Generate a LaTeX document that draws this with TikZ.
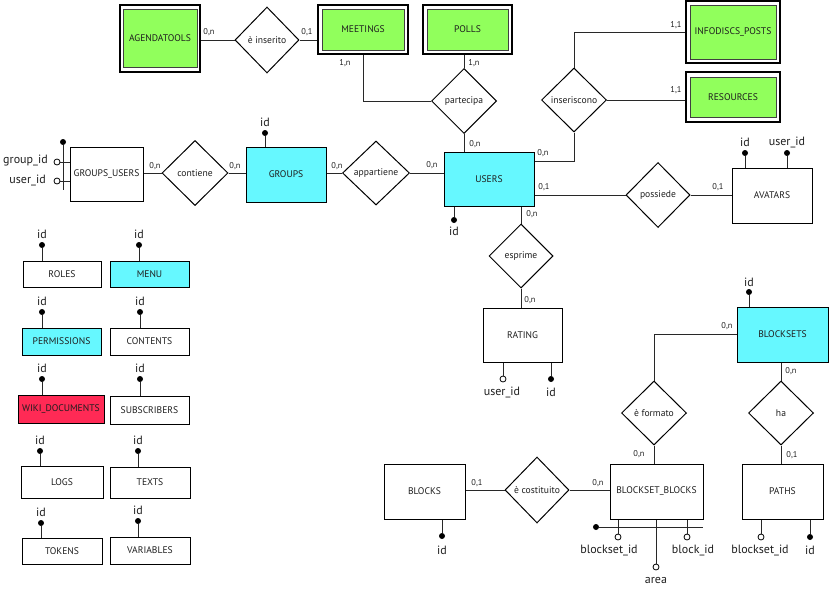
\documentclass[tikz,border=0pt]{standalone}
\usepackage{fontspec}
\setmainfont{PT Sans}
\usetikzlibrary{shapes.geometric}
\definecolor{entgreen}{RGB}{145,255,92}
\definecolor{entcyan}{RGB}{102,248,255}
\definecolor{entred}{RGB}{255,42,85}
\definecolor{linegray}{RGB}{40,40,40}
\definecolor{txt}{RGB}{30,30,30}
\tikzset{
  ent/.style 2 args={draw=black, line width=0.75pt, fill=white, rectangle, inner sep=0pt, text=txt,
    minimum width=#1*0.75pt, minimum height=#2*0.75pt, font=\fontsize{7.2}{8}\selectfont},
  outerbox/.style 2 args={draw=black, line width=1.4pt, fill=white, rectangle, inner sep=0pt,
    minimum width=#1*0.75pt, minimum height=#2*0.75pt},
  innerbox/.style 2 args={draw=black!75, line width=0.75pt, fill=entgreen, rectangle, inner sep=0pt, text=txt,
    minimum width=#1*0.75pt, minimum height=#2*0.75pt, font=\fontsize{7.2}{8}\selectfont},
  rel/.style 2 args={diamond, draw=black, line width=0.75pt, fill=white, inner sep=0pt, aspect=1, text=txt,
    minimum width=#1*0.75pt, minimum height=#2*0.75pt, font=\fontsize{7.2}{8}\selectfont},
  card/.style={font=\fontsize{6.3}{7}\selectfont, inner sep=0pt, text=txt},
  attr/.style={font=\fontsize{9}{10}\selectfont, inner sep=0pt, text=txt},
  keyd/.style={circle, fill=black, inner sep=0pt, minimum size=4.5pt},
  optd/.style={circle, draw=black, fill=white, line width=0.6pt, inner sep=0pt, minimum size=4.5pt},
  conn/.style={draw=linegray, line width=0.75pt},
}
\begin{document}
\begin{tikzpicture}[x=0.75pt,y=-0.75pt]
\useasboundingbox (0,0) rectangle (829,589);

% ---------- top weak entities ----------
\node[outerbox={80}{67}] (agenda) at (160,38.5) {};
\node[innerbox={74}{58}] (agendaIn) at (160,38) {AGENDATOOLS};
\node[outerbox={90}{49}] (meet) at (363,29.5) {};
\node[innerbox={82}{41}] (meetIn) at (363,29.5) {MEETINGS};
\node[outerbox={89}{49}] (polls) at (467.5,29.5) {};
\node[innerbox={81}{41}] (pollsIn) at (467.5,29.5) {POLLS};
\node[outerbox={94}{62}] (info) at (733,32) {};
\node[innerbox={86}{54}] (infoIn) at (733,32) {INFODISCS\_POSTS};
\node[outerbox={94}{50}] (res) at (733,97) {};
\node[innerbox={86}{40}] (resIn) at (733,97.5) {RESOURCES};

% ---------- relations ----------
\node[rel={64}{66}] (ins) at (267,40) {è inserito};
\node[rel={65}{65}] (part) at (464,101) {partecipa};
\node[rel={65}{64}] (inser) at (574,100) {inseriscono};
\node[rel={66}{65}] (cont) at (195,173) {contiene};
\node[rel={67}{64}] (app) at (376,173) {appartiene};
\node[rel={64}{65}] (poss) at (658,195) {possiede};
\node[rel={64}{64}] (esp) at (521,256) {esprime};
\node[rel={65}{64}] (form) at (654,413) {è formato};
\node[rel={65}{64}] (ha) at (781,413) {ha};
\node[rel={64}{66}] (cost) at (537,490) {è costituito};

% ---------- main entities ----------
\node[ent={90}{54}, fill=entcyan] (users) at (489,179) {USERS};
\node[ent={80}{55}, fill=entcyan] (groups) at (286,174.5) {GROUPS};
\node[ent={73}{54}] (gu) at (106.5,174) {GROUPS\_USERS};
\node[ent={80}{55}] (av) at (772,195.5) {AVATARS};
\node[ent={79}{54}] (rat) at (522.5,335) {RATING};
\node[ent={91}{55}, fill=entcyan] (bs) at (782.5,334.5) {BLOCKSETS};
\node[ent={93}{55}] (bb) at (656.5,491.5) {BLOCKSET\_BLOCKS};
\node[ent={81}{55}] (paths) at (782.5,491.5) {PATHS};
\node[ent={81}{55}] (blocks) at (424.5,491.5) {BLOCKS};

% ---------- left list ----------
\node[ent={78}{26}] (roles) at (62,274) {ROLES};
\node[ent={79}{26}, fill=entcyan] (menu) at (149.5,274) {MENU};
\node[ent={79}{27}, fill=entcyan] (perm) at (61.5,341.5) {PERMISSIONS};
\node[ent={79}{27}] (contents) at (149.5,341.5) {CONTENTS};
\node[ent={86}{28}, fill=entred] (wiki) at (61,409.5) {WIKI\_DOCUMENTS};
\node[ent={79}{28}] (subs) at (149.5,410) {SUBSCRIBERS};
\node[ent={82}{32}] (logs) at (62,482) {LOGS};
\node[ent={80}{31}] (texts) at (150,482.5) {TEXTS};
\node[ent={80}{26}] (tokens) at (62,551) {TOKENS};
\node[ent={80}{27}] (vars) at (150,550.5) {VARIABLES};

% ---------- connectors ----------
\draw[conn] (ins.west) -- (ins.west -| agenda.east);
\draw[conn] (ins.east) -- (ins.east -| meet.west);
\draw[conn] (meet.south) |- (part.west);
\draw[conn] (part.north) -- (part.north |- polls.south);
\draw[conn] (part.south) -- (part.south |- users.north);
\draw[conn] (info.west) -| (inser.north);
\draw[conn] (inser.east) -- (inser.east -| res.west);
\draw[conn] (inser.south) |- (users.east |- 0,161);
\draw[conn] (cont.west) -- (cont.west -| gu.east);
\draw[conn] (cont.east) -- (cont.east -| groups.west);
\draw[conn] (app.west) -- (app.west -| groups.east);
\draw[conn] (app.east) -- (app.east -| users.west);
\draw[conn] (poss.west) -- (poss.west -| users.east);
\draw[conn] (poss.east) -- (poss.east -| av.west);
\draw[conn] (esp.north) -- (esp.north |- users.south);
\draw[conn] (esp.south) -- (esp.south |- rat.north);
\draw[conn] (bs.west) -| (form.north);
\draw[conn] (form.south) -- (form.south |- bb.north);
\draw[conn] (ha.north) -- (ha.north |- bs.south);
\draw[conn] (ha.south) -- (ha.south |- paths.north);
\draw[conn] (cost.west) -- (cost.west -| blocks.east);
\draw[conn] (cost.east) -- (cost.east -| bb.west);

% ---------- cardinalities ----------
\node[card] at (209,32) {0,n};
\node[card] at (307,32) {0,1};
\node[card] at (345,63) {1,n};
\node[card] at (474,63) {1,n};
\node[card] at (475,144) {0,n};
\node[card] at (676,25) {1,1};
\node[card] at (676,90) {1,1};
\node[card] at (543,153) {0,n};
\node[card] at (432,165) {0,n};
\node[card] at (544,187) {0,1};
\node[card] at (718,187) {0,1};
\node[card] at (532,214) {0,n};
\node[card] at (530,300) {0,n};
\node[card] at (155,166) {0,n};
\node[card] at (235,166) {0,n};
\node[card] at (337,166) {0,n};
\node[card] at (727,326) {0,n};
\node[card] at (791,371) {0,n};
\node[card] at (639,454) {0,n};
\node[card] at (792,455) {0,1};
\node[card] at (477,483) {0,1};
\node[card] at (598,483) {0,n};

% ---------- attributes ----------
% groups_users
\node[keyd] (gubar) at (63,142) {};
\coordinate (gubarend) at (63,190);
\draw[conn] (gubar) -- (gubarend);
\node[optd] (gug) at (57,162) {};
\node[optd] (guu) at (57,181) {};
\draw[conn] (gug) -- (gug -| gu.west);
\draw[conn] (guu) -- (guu -| gu.west);
\node[attr, anchor=east] at (48,161) {group\_id};
\node[attr, anchor=east] at (46,180) {user\_id};
% groups
\node[keyd] (grid) at (265,133) {};
\draw[conn] (grid) -- (grid |- groups.north);
\node[attr] at (265,122) {id};
% users
\node[keyd] (usid) at (454,220) {};
\draw[conn] (usid) -- (usid |- users.south);
\node[attr] at (454,231) {id};
% avatars
\node[keyd] (avid) at (745,153) {};
\draw[conn] (avid) -- (avid |- av.north);
\node[attr] at (745,142) {id};
\node[keyd] (avuid) at (787,153) {};
\draw[conn] (avuid) -- (avuid |- av.north);
\node[attr] at (787,142) {user\_id};
% rating
\node[optd] (ratu) at (503,379) {};
\draw[conn] (ratu) -- (ratu |- rat.south);
\node[attr] at (502,392) {user\_id};
\node[keyd] (ratid) at (551,379) {};
\draw[conn] (ratid) -- (ratid |- rat.south);
\node[attr] at (551,392) {id};
% blocksets
\node[keyd] (bsid) at (749,292) {};
\draw[conn] (bsid) -- (bsid |- bs.north);
\node[attr] at (749,282) {id};
% blocks
\node[keyd] (blid) at (442,536) {};
\draw[conn] (blid) -- (blid |- blocks.south);
\node[attr] at (442,550) {id};
% blockset_blocks
\node[keyd] (bbk) at (596,527) {};
\coordinate (bbkend) at (703,527);
\draw[conn] (bbk) -- (bbkend);
\node[optd] (bbbs) at (618,537) {};
\draw[conn] (bbbs) -- (bbbs |- bb.south);
\node[attr] at (609,550) {blockset\_id};
\node[optd] (bbbl) at (687,537) {};
\draw[conn] (bbbl) -- (bbbl |- bb.south);
\node[attr] at (693,550) {block\_id};
\node[optd] (bbar) at (656,567) {};
\draw[conn] (bbar) -- (bbar |- bb.south);
\node[attr] at (656,580) {area};
% paths
\node[optd] (pbs) at (761,537) {};
\draw[conn] (pbs) -- (pbs |- paths.south);
\node[attr] at (760,550) {blockset\_id};
\node[keyd] (pid) at (810,537) {};
\draw[conn] (pid) -- (pid |- paths.south);
\node[attr] at (810,550) {id};

% left list keys
\foreach \nm/\xx/\yy in {roles/42/245, menu/139/245, perm/42/312, contents/140/312,
  wiki/42/379, subs/140/379, logs/40/451, texts/138/451, tokens/41/523, vars/138/521}{
  \node[keyd] (k\nm) at (\xx,\yy) {};
  \draw[conn] (k\nm) -- (k\nm |- \nm.north);
  \node[attr] at (\xx,\yy-10.5) {id};
}
\end{tikzpicture}
\end{document}
